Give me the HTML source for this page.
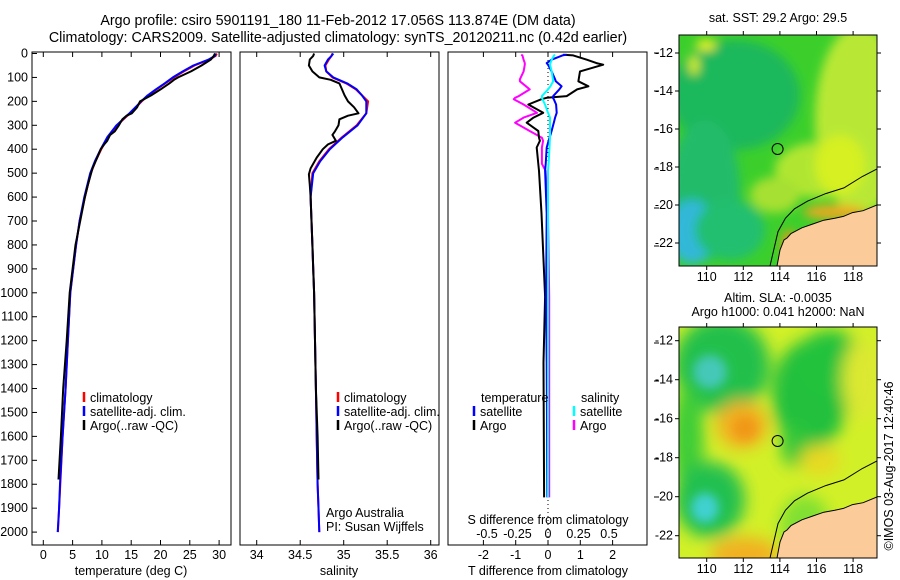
<!DOCTYPE html>
<html><head><meta charset="utf-8">
<style>
html,body{margin:0;padding:0;background:#fff;}
svg{display:block;font-family:"Liberation Sans",sans-serif;}
text{font-size:12.5px;fill:#000;}
text.ttl{font-size:14.3px;}
</style></head>
<body>
<svg id="fig" width="900" height="580" viewBox="0 0 900 580" xmlns="http://www.w3.org/2000/svg">
<defs>
 <filter id="blurA" x="-20%" y="-20%" width="140%" height="140%"><feGaussianBlur stdDeviation="8"/></filter>
 <filter id="blurB" x="-20%" y="-20%" width="140%" height="140%"><feGaussianBlur stdDeviation="5"/></filter>
 <clipPath id="clipTop"><rect x="679" y="35" width="198" height="231"/></clipPath>
 <clipPath id="clipBot"><rect x="679" y="327" width="198" height="231"/></clipPath>
</defs>
<text class="ttl" x="338" y="25" text-anchor="middle">Argo profile: csiro 5901191_180 11-Feb-2012 17.056S 113.874E (DM data)</text>
<text class="ttl" x="338" y="42" text-anchor="middle">Climatology: CARS2009. Satellite-adjusted climatology: synTS_20120211.nc (0.42d earlier)</text>

<!-- SST map -->
<g>
<text x="778" y="22" text-anchor="middle">sat. SST: 29.2 Argo: 29.5</text>
<g clip-path="url(#clipTop)">
 <rect x="679" y="35" width="198" height="231" fill="#3ccf2c"/>
 <g filter="url(#blurB)">
  <ellipse cx="735" cy="95" rx="65" ry="55" fill="#1cb85c"/>
  <ellipse cx="705" cy="190" rx="35" ry="70" fill="#20bb6a"/>
  <ellipse cx="692" cy="232" rx="24" ry="32" fill="#30b8d8"/>
  <ellipse cx="730" cy="230" rx="35" ry="30" fill="#22bf70"/>
  <ellipse cx="860" cy="120" rx="45" ry="95" fill="#b8e834"/>
  <ellipse cx="820" cy="170" rx="45" ry="28" fill="#b0e630"/>
  <ellipse cx="840" cy="165" rx="25" ry="30" fill="#d6f020"/>
  <ellipse cx="775" cy="195" rx="25" ry="18" fill="#a6e030"/>
  <ellipse cx="706" cy="45" rx="10" ry="6" fill="#e4f020"/>
  <ellipse cx="694" cy="65" rx="5" ry="10" fill="#d8f020"/>
  <ellipse cx="835" cy="212" rx="32" ry="7" fill="#f0a820"/>
  <ellipse cx="789" cy="245" rx="7" ry="15" fill="#f09a18"/>
 </g>
 <polygon points="777,266 780,250 784,240 787,238 791,233.5 801.9,227.8 812.8,224 823.8,220.2 834.8,218.3 843.4,216.4 852.5,212.6 863.1,210.7 877,205 877,266" fill="#fbcb9a"/>
 <polyline points="777,266 780,250 784,240 787,238 791,233.5 801.9,227.8 812.8,224 823.8,220.2 834.8,218.3 843.4,216.4 852.5,212.6 863.1,210.7 877,205" fill="none" stroke="#000" stroke-width="1"/>
 <polyline points="770,266 774,248.7 778,231.6 785.4,218.3 794.5,208.8 807.4,201.2 825.7,193.6 843.9,187.9 862.3,176.5 877,168.9" fill="none" stroke="#000" stroke-width="1"/>
 <circle cx="777.6" cy="149" r="5.5" fill="none" stroke="#000" stroke-width="1"/>
</g>
<rect x="679" y="35" width="198" height="231" fill="none" stroke="#000"/>
</g>

<!-- SLA map -->
<g>
<text x="778" y="302" text-anchor="middle">Altim. SLA: -0.0035</text>
<text x="778" y="316" text-anchor="middle">Argo h1000: 0.041 h2000: NaN</text>
<g clip-path="url(#clipBot)">
 <rect x="679" y="327" width="198" height="231" fill="#d2f028"/>
 <g filter="url(#blurA)">
  <ellipse cx="722" cy="365" rx="48" ry="48" fill="#22c04c"/>
  <ellipse cx="688" cy="440" rx="16" ry="55" fill="#3ccc38"/>
  <ellipse cx="810" cy="395" rx="38" ry="55" fill="#22c03c"/>
  <ellipse cx="830" cy="365" rx="35" ry="35" fill="#24c23c"/>
  <ellipse cx="795" cy="445" rx="14" ry="22" fill="#30c63a"/>
  <ellipse cx="710" cy="500" rx="35" ry="38" fill="#22c050"/>
  <ellipse cx="742" cy="425" rx="26" ry="24" fill="#f2b020"/>
  <ellipse cx="745" cy="555" rx="35" ry="18" fill="#f2b020"/>
  <ellipse cx="820" cy="460" rx="20" ry="15" fill="#e8d820"/>
  <ellipse cx="862" cy="380" rx="20" ry="40" fill="#dce830"/>
  <ellipse cx="805" cy="525" rx="25" ry="30" fill="#80e030"/>
 </g>
 <g filter="url(#blurB)">
  <ellipse cx="710" cy="372" rx="17" ry="17" fill="#44c8b8"/>
  <ellipse cx="705" cy="508" rx="14" ry="15" fill="#40d0d0"/>
  <ellipse cx="745" cy="428" rx="12" ry="12" fill="#f09818"/>
 </g>
 <g transform="translate(0,292)">
 <polygon points="777,266 780,250 784,240 787,238 791,233.5 801.9,227.8 812.8,224 823.8,220.2 834.8,218.3 843.4,216.4 852.5,212.6 863.1,210.7 877,205 877,266" fill="#fbcb9a"/>
 <polyline points="777,266 780,250 784,240 787,238 791,233.5 801.9,227.8 812.8,224 823.8,220.2 834.8,218.3 843.4,216.4 852.5,212.6 863.1,210.7 877,205" fill="none" stroke="#000" stroke-width="1"/>
 <polyline points="770,266 774,248.7 778,231.6 785.4,218.3 794.5,208.8 807.4,201.2 825.7,193.6 843.9,187.9 862.3,176.5 877,168.9" fill="none" stroke="#000" stroke-width="1"/>
 </g>
 <circle cx="777.6" cy="441" r="5.5" fill="none" stroke="#000" stroke-width="1"/>
</g>
<rect x="679" y="327" width="198" height="231" fill="none" stroke="#000"/>
</g>
<text transform="translate(893,466) rotate(-90)" text-anchor="middle">©IMOS 03-Aug-2017 12:40:46</text>
<g id="dyn"></g>
</svg>
<script>
// ---- data ----
const depthTicks = [0,100,200,300,400,500,600,700,800,900,1000,1100,1200,1300,1400,1500,1600,1700,1800,1900,2000];
const tempTicks = [0,5,10,15,20,25,30];
const salTicks = [34,34.5,35,35.5,36];
const tdiffTicks = [-2,-1,0,1,2];
const sdiffTicks = [-0.5,-0.25,0,0.25,0.5];

const depthClim = [0,10,25,50,75,100,125,150,175,200,250,300,350,400,450,500,600,700,800,900,1000,1200,1400,1600,1800,1900,2000];
const tempClim = [29.6,29.4,28.4,25.8,24.0,22.3,20.8,19.3,17.9,16.8,14.8,12.6,11.0,9.9,8.9,8.1,7.1,6.2,5.6,5.1,4.6,4.2,3.8,3.3,2.9,2.7,2.5];
const tempSat  = [29.4,29.3,28.2,25.6,23.8,22.1,20.7,19.2,17.8,16.7,14.7,12.5,10.9,9.8,8.8,8.0,7.0,6.2,5.6,5.1,4.6,4.2,3.8,3.3,2.85,2.7,2.45];
const salClim = [34.87,34.86,34.83,34.79,34.80,34.87,35.03,35.14,35.21,35.28,35.26,35.15,34.98,34.83,34.72,34.64,34.62,34.63,34.64,34.65,34.66,34.67,34.68,34.69,34.70,34.71,34.72];
const salSat  = [34.88,34.86,34.82,34.78,34.80,34.88,35.04,35.15,35.21,35.26,35.26,35.16,34.99,34.84,34.73,34.65,34.62,34.63,34.64,34.65,34.66,34.67,34.68,34.69,34.70,34.71,34.72];

const depthArgo = [0,10,25,50,75,100,110,125,150,175,200,225,250,260,275,300,325,340,365,380,400,435,480,505,550,600,800,1000,1200,1400,1600,1780];
const tempArgo = [29.3,29.1,28.6,27.0,25.2,23.0,22.3,21.5,20.0,18.4,16.5,16.0,15.1,14.2,13.5,12.9,12.2,11.4,10.9,10.4,9.8,9.2,8.4,8.1,7.6,7.1,5.5,4.5,4.0,3.4,3.0,2.6];
const salArgo = [34.66,34.65,34.61,34.60,34.64,34.72,34.85,34.95,34.98,35.01,35.05,35.12,35.17,35.05,34.95,34.94,34.90,34.87,34.91,34.82,34.76,34.69,34.62,34.60,34.61,34.62,34.64,34.66,34.67,34.68,34.70,34.71];

const depthDiff = [5,8,26,40,47,75,108,116,137,150,178,185,191,213,248,268,289,324,352,365,393,461,490,668,1016,1291,1855];
const tdiffArgo = [0.47,0.78,1.2,1.5,1.71,0.99,0.95,0.94,1.25,0.9,0.58,-0.04,-0.2,-0.61,-0.15,-0.45,-0.66,-0.3,-0.28,-0.25,-0.35,-0.3,-0.28,-0.2,-0.09,-0.14,-0.12];
const tdiffSat  = [0.58,0.45,0.11,-0.04,0.0,0.11,0.22,0.24,0.42,0.35,0.16,0.15,0.18,0.25,0.27,0.22,0.18,0.11,0.05,0.02,-0.04,-0.07,-0.09,-0.04,-0.06,-0.04,-0.02];
const sdiffSat  = [0.057,0.05,0.03,0.02,0.016,0.03,0.04,0.043,0.02,0.0,-0.05,-0.05,-0.045,-0.025,0.0,0.016,0.016,0.016,0.016,0.015,0.012,0.005,0.0,0.0,0.0,0.0,0.0];
const sdiffArgo = [-0.22,-0.21,-0.2,-0.19,-0.19,-0.2,-0.23,-0.23,-0.18,-0.15,-0.24,-0.27,-0.28,-0.2,-0.09,-0.2,-0.27,-0.15,-0.05,-0.04,-0.05,-0.05,-0.02,0.0,0.01,0.01,0.01];

// ---- axes ----
const Y0 = 53.5, YS = 0.2393;
const yD = d => Y0 + d*YS;
const xT = t => 43.3 + t*5.86;
const xS = s => 256.7 + (s-34)*87;
const xTD = v => 548 + v*32.3;
const xSD = v => 548 + v*122;
const TOP = 52, BOT = 545;

const NS = 'http://www.w3.org/2000/svg';
const dyn = document.getElementById('dyn');
function mk(tag, attrs, parent){
  const e = document.createElementNS(NS, tag);
  for (const k in attrs) e.setAttribute(k, attrs[k]);
  (parent||dyn).appendChild(e);
  return e;
}
function txt(x,y,s,anchor){
  const t = mk('text',{x:x,y:y,'text-anchor':anchor||'middle'});
  t.textContent = s;
  return t;
}
function line(xf, vals, depths, color, name){
  const pts = vals.map((v,i)=> xf(v).toFixed(1)+','+yD(depths[i]).toFixed(1)).join(' ');
  const p = mk('polyline',{points:pts,fill:'none',stroke:color,'stroke-width':2,'stroke-linejoin':'round'});
  
  
  return p;
}
function frame(x0,x1,name){
  const r = mk('rect',{x:x0,y:TOP,width:x1-x0,height:BOT-TOP,fill:'none',stroke:'#000','stroke-width':1});
  
  
}
function xticks(vals, xf, labels, ly){
  vals.forEach((v,i)=>{
    const x = xf(v);
    mk('line',{x1:x,x2:x,y1:TOP,y2:TOP+5,stroke:'#000'});
    mk('line',{x1:x,x2:x,y1:BOT,y2:BOT-5,stroke:'#000'});
    if (labels) {
      const t = txt(x, ly, labels[i]);
      
      
    }
  });
}
function legendEntry(x,y,color,label,name){
  mk('line',{x1:x,x2:x,y1:y-10,y2:y,stroke:color,'stroke-width':2.5});
  const t = txt(x+6,y,label,'start');
  
  
}

// Panel 1: temperature
frame(32,231,'temperature-panel');
depthTicks.forEach(d=>{
  const y = yD(d);
  mk('line',{x1:32,x2:37,y1:y,y2:y,stroke:'#000'});
  const t = txt(28, y+4, String(d), 'end');
  
  
});
xticks(tempTicks, xT, tempTicks.map(String), 559);
line(xT, tempClim, depthClim, '#ff0000', 'temp-climatology-line');
line(xT, tempSat, depthClim, '#0000ff', 'temp-satellite-line');
line(xT, tempArgo, depthArgo, '#000000', 'temp-argo-line');
let xl = txt(131, 575, 'temperature (deg C)');


legendEntry(84,402,'#ff0000','climatology','legend-climatology');
legendEntry(84,416,'#0000ff','satellite-adj. clim.','legend-satellite');
legendEntry(84,430,'#000000','Argo(..raw -QC)','legend-argo');

// Panel 2: salinity
frame(240,439,'salinity-panel');
xticks(salTicks, xS, salTicks.map(String), 559);
line(xS, salClim, depthClim, '#ff0000', 'sal-climatology-line');
line(xS, salSat, depthClim, '#0000ff', 'sal-satellite-line');
line(xS, salArgo, depthArgo, '#000000', 'sal-argo-line');
xl = txt(339, 575, 'salinity');


legendEntry(338,402,'#ff0000','climatology','legend-climatology-2');
legendEntry(338,416,'#0000ff','satellite-adj. clim.','legend-satellite-2');
legendEntry(338,430,'#000000','Argo(..raw -QC)','legend-argo-2');
let ta = txt(326,517,'Argo Australia','start');


ta = txt(326,531,'PI: Susan Wijffels','start');



// Panel 3: differences
frame(448,647,'difference-panel');
xticks(tdiffTicks, xTD, ['-2','-1','0','1','2'], 559);
sdiffTicks.forEach(v=>{
  const t = txt(xSD(v), 538, String(v));
  
  
});
mk('line',{x1:548,x2:548,y1:TOP,y2:BOT,stroke:'#000','stroke-dasharray':'1,3'});
line(xSD, sdiffArgo, depthDiff, '#ff00ff', 'sdiff-argo-line');
line(xTD, tdiffArgo, depthDiff, '#000000', 'tdiff-argo-line');
line(xTD, tdiffSat, depthDiff, '#0000ff', 'tdiff-satellite-line');
line(xSD, sdiffSat, depthDiff, '#00ffff', 'sdiff-satellite-line');
xl = txt(548, 524, 'S difference from climatology');


xl = txt(548, 575, 'T difference from climatology');


ta = txt(481,402,'temperature','start');


ta = txt(581,402,'salinity','start');


legendEntry(474,416,'#0000ff','satellite','legend-t-satellite');
legendEntry(474,430,'#000000','Argo','legend-t-argo');
legendEntry(574,416,'#00ffff','satellite','legend-s-satellite');
legendEntry(574,430,'#ff00ff','Argo','legend-s-argo');
[53,91,130,169,208,246,343,381,420,459,497].forEach(y=>{
  mk('line',{x1:654,x2:659,y1:y,y2:y,stroke:'#000'});
});

// Map axes
const lonTicks = [110,112,114,116,118];
const latTicks = [-12,-14,-16,-18,-20,-22];
const xLon = l => 706.7 + (l-110)*18.3;
const yLatTop = l => 53 + (-12-l)*19;
const yLatBot = l => 340.7 + (-12-l)*19.5;
function mapAxes(yf, top, bottom, ly){
  lonTicks.forEach(l=>{
    const x = xLon(l);
    mk('line',{x1:x,x2:x,y1:top-4,y2:top,stroke:'#000'});
    mk('line',{x1:x,x2:x,y1:bottom,y2:bottom+4,stroke:'#000'});
    const t = txt(x, ly, String(l));
    
    
  });
  latTicks.forEach(l=>{
    const y = yf(l);
    mk('line',{x1:675,x2:679,y1:y,y2:y,stroke:'#000'});
    mk('line',{x1:877,x2:881,y1:y,y2:y,stroke:'#000'});
    const t = txt(673, y+4, String(l), 'end');
    
    
  });
}
mapAxes(yLatTop, 35, 266, 281);
mapAxes(yLatBot, 327, 558, 573);
</script>
</body></html>
